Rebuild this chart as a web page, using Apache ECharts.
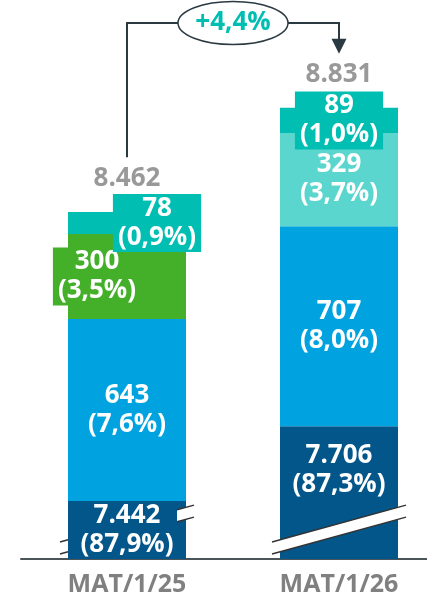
<!DOCTYPE html>
<html>
<head>
<meta charset="utf-8">
<script src="https://cdn.jsdelivr.net/npm/echarts@6/dist/echarts.min.js"></script>
<style>
html,body{margin:0;padding:0;background:#fff;}
#c{width:427px;height:600px;}
</style>
</head>
<body>
<div id="c"></div>
<script>
const categories = ['MAT/1/25', 'MAT/1/26'];
const coreValues = [7442, 7706];
const corePct = ['87,9%', '87,3%'];
const midValues = [643, 707];
const midPct = ['7,6%', '8,0%'];
const thirdValues = [300, 329];
const thirdPct = ['3,5%', '3,7%'];
const topValues = [78, 89];
const topPct = ['0,9%', '1,0%'];
const totals = [8462, 8831];
const growthLabel = '+4,4%';
const axisMin = 7237;
const breakValue = 7341;

const C = {
  dark: '#03568a', mid: '#00a3e0', green: '#44b02a', teal: '#00bfb2',
  lightTeal: '#5bd6ce', gray: '#808080', line: '#2b3a42'
};
const FONT = '"Open Sans", sans-serif';
const fmt = n => String(n).replace(/\B(?=(\d{3})+(?!\d))/g, '.');

function segLabel(pct, extra) {
  return Object.assign({
    show: true, color: '#fff', fontFamily: FONT, fontWeight: 'bold',
    fontSize: 26, lineHeight: 29, align: 'center',
    formatter: p => fmt(p.value) + '\n(' + pct[p.dataIndex] + ')'
  }, extra || {});
}

const chart = echarts.init(document.getElementById('c'), null, {renderer: 'canvas'});
const option = {
  animation: false,
  grid: {left: 21, width: 424, top: 60, bottom: 41, outerBoundsMode: 'none', containLabel: false},
  xAxis: {
    type: 'category', data: categories,
    axisLine: {show: true, lineStyle: {color: '#4a5459', width: 2}},
    axisTick: {show: false},
    axisLabel: {color: C.gray, fontFamily: FONT, fontWeight: 'bold', fontSize: 25, margin: 13}
  },
  yAxis: {type: 'value', min: axisMin, max: 9000, show: false, splitLine: {show: false}},
  series: [
    {
      type: 'bar', stack: 's', barWidth: 118, itemStyle: {color: C.dark},
      data: coreValues.map((v, i) => ({
        value: v,
        label: segLabel(corePct, {position: 'inside', offset: i === 0 ? [0, 0] : [0, -23]})
      }))
    },
    {
      type: 'bar', stack: 's', barWidth: 118, itemStyle: {color: C.mid},
      data: midValues, label: segLabel(midPct, {position: 'inside'})
    },
    {
      type: 'bar', stack: 's', barWidth: 118,
      data: thirdValues.map((v, i) => ({
        value: v,
        itemStyle: {color: i === 0 ? C.green : C.lightTeal},
        label: i === 0
          ? segLabel(thirdPct, {position: 'inside', offset: [-30, 0], backgroundColor: C.green, padding: [0, 5]})
          : segLabel(thirdPct, {position: 'inside'})
      }))
    },
    {
      type: 'bar', stack: 's', barWidth: 118, itemStyle: {color: C.teal}, z: 3,
      data: topValues.map((v, i) => ({
        value: v,
        label: segLabel(topPct, {position: 'inside', offset: i === 0 ? [30, 0] : [0, 0], backgroundColor: C.teal, padding: [0, 5]})
      }))
    },
    {
      type: 'scatter', symbol: 'rect', symbolSize: 1,
      itemStyle: {color: 'rgba(0,0,0,0)'},
      data: totals,
      label: {
        show: true, position: 'top', distance: 20, color: C.gray, fontFamily: FONT,
        fontWeight: 'bold', fontSize: 26, lineHeight: 26,
        formatter: p => fmt(p.value)
      }
    }
  ]
};
chart.setOption(option);

// Annotation + axis break marks, positioned through the chart's own scales
const px = (i, v) => chart.convertToPixel({gridIndex: 0}, [i, v]);
const x0 = px(0, totals[0])[0], x1 = px(1, totals[1])[0];
const t0 = px(0, totals[0])[1], t1 = px(1, totals[1])[1];
const topY = 23;
const midX = (x0 + x1) / 2;
const slope = 0.275, halfT = 6, halfW = 67;
const lineStyle = {stroke: '#333', lineWidth: 1.5};

function bandPieces(i, ranges) {
  const [c, yb] = px(i, breakValue);
  const els = [];
  ranges.forEach(([a, b]) => {
    const xa = c + a, xb = c + b;
    const up = x => yb - halfT - slope * (x - c);
    const lo = x => yb + halfT - slope * (x - c);
    els.push({type: 'polygon', z: 100, shape: {points: [[xa, up(xa)], [xb, up(xb)], [xb, lo(xb)], [xa, lo(xa)]]}, style: {fill: '#fff'}});
    els.push({type: 'line', z: 101, shape: {x1: xa, y1: up(xa), x2: xb, y2: up(xb)}, style: lineStyle});
    els.push({type: 'line', z: 101, shape: {x1: xa, y1: lo(xa), x2: xb, y2: lo(xb)}, style: lineStyle});
  });
  return els;
}

const graphics = [].concat(
  bandPieces(0, [[-halfW, -59], [50, halfW]]),
  bandPieces(1, [[-halfW, halfW]]),
  [
    {type: 'polyline', z: 100, shape: {points: [[x0, t0 - 55], [x0, topY], [midX - 55, topY]]}, style: {stroke: C.line, lineWidth: 2, fill: null}},
    {type: 'polyline', z: 100, shape: {points: [[midX + 55, topY], [x1, topY], [x1, t1 - 68]]}, style: {stroke: C.line, lineWidth: 2, fill: null}},
    {type: 'polygon', z: 100, shape: {points: [[x1 - 7.5, t1 - 69], [x1 + 7.5, t1 - 69], [x1, t1 - 54]]}, style: {fill: C.line}},
    {type: 'ellipse', z: 100, shape: {cx: midX, cy: topY, rx: 55, ry: 21.5}, style: {fill: '#fff', stroke: C.line, lineWidth: 1.5}},
    {type: 'text', z: 102, x: midX, y: topY, style: {text: growthLabel, fill: C.teal, font: 'bold 26px "Open Sans", sans-serif', align: 'center', verticalAlign: 'middle'}}
  ]
);
chart.setOption({graphic: graphics});
</script>
</body>
</html>
